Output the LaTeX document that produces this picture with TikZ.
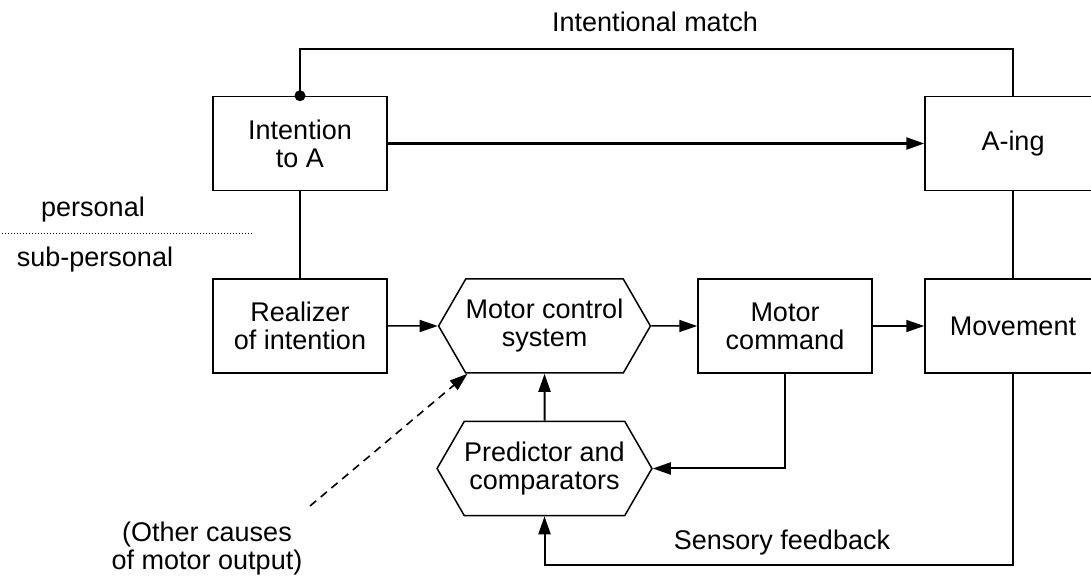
\documentclass[tikz,border=0pt]{standalone}
\usepackage{fontspec}
\setmainfont{Liberation Sans}
\usetikzlibrary{arrows.meta,shapes.symbols,positioning}
\tikzset{
  box/.style={draw,line width=0.75pt,minimum width=87pt,minimum height=47pt,inner sep=0pt,align=center,font=\fontsize{13.5}{14}\selectfont},
  hex/.style={draw,line width=0.75pt,shape=signal,signal to=west and east,signal pointer angle=120,
    minimum width=104pt,minimum height=47pt,inner sep=0pt,align=center,font=\fontsize{13.5}{14}\selectfont},
  lbl/.style={align=center,inner sep=0pt,font=\fontsize{13.5}{14}\selectfont},
  link/.style={line width=0.75pt},
  flow/.style={line width=0.75pt,-{Triangle[length=9pt,width=6pt]}},
  main/.style={line width=1.2pt,-{Triangle[length=9pt,width=6pt]}},
  fb/.style={line width=1pt,-{Triangle[length=9pt,width=6pt]}},
  other/.style={line width=0.8pt,dash pattern=on 4pt off 3pt,-{Triangle[length=9pt,width=6pt]}},
  divider/.style={line width=0.5pt,dash pattern=on 0.5pt off 1pt},
  dot/.style={circle,fill=black,inner sep=0pt,minimum size=5.5pt},
}
\begin{document}
\begin{tikzpicture}[x=0.5pt,y=-0.5pt]
    \useasboundingbox (0,0) rectangle (1091,576);
    % personal level
    \node[box] (intent) at (300,143.5) {Intention\\to A};
    \node[box,minimum width=88pt] (aing) at (1013,143.5) {A-ing};
    % sub-personal level
    \node[box] (real) at (300,326) {Realizer\\of intention};
    \node[hex] (mcs) at (544.5,326) {Motor control\\system};
    \node[box] (cmd) at (785,326) {Motor\\command};
    \node[box,minimum width=88pt] (move) at (1013,326) {Movement};
    \node[hex] (pred) at (544.5,468.5) {Predictor and\\comparators};
    % labels
    \node[lbl] (match) at (655,22) {Intentional match};
    \node[lbl] (pers) at (93,210) {personal};
    \node[lbl] (subpers) at (95,260) {sub-personal};
    \node[lbl] (sens) at (782,543) {Sensory feedback};
    \node[lbl] (causes) at (207,549) {(Other causes\\of motor output)};
    \coordinate (divL) at (2,234);
    \coordinate (divR) at (253,234);
    \coordinate (mtop) at (0,49);
    \coordinate (fbot) at (0,565);
    \coordinate (oc) at (310,506);
    \draw[divider] (divL) -- (divR);
    % connectors
    \draw[link] (intent.north) -- (intent.north |- mtop) -| (aing.north);
    \node[dot] (start) at (intent.north) {};
    \draw[main] (intent) -- (aing);
    \draw[link] (intent) -- (real);
    \draw[link] (aing) -- (move);
    \draw[flow] (real) -- (mcs);
    \draw[flow] (mcs) -- (cmd);
    \draw[flow] (cmd) -- (move);
    \draw[fb] (pred) -- (mcs);
    \draw[fb] (cmd.south) |- (pred.east);
    \draw[fb] (move.south) -- (move.south |- fbot) -| (pred.south);
    \draw[other] (oc) -- ([xshift=-38.5pt]mcs.south);
\end{tikzpicture}
\end{document}
